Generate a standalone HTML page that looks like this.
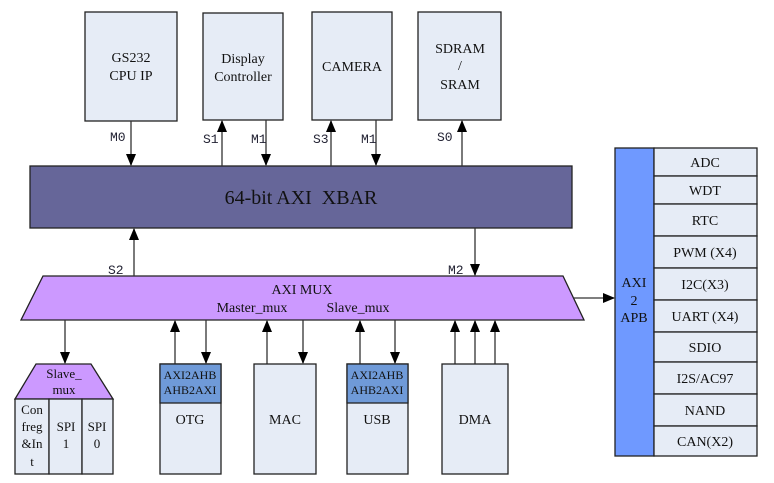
<!DOCTYPE html>
<html><head><meta charset="utf-8"><style>
html,body{margin:0;padding:0;background:#fff;}
svg{display:block}
text{font-family:"Liberation Serif",serif;fill:#111;}
.m{font-family:"Liberation Mono",monospace;font-size:13px;fill:#223;}
</style></head><body>
<svg width="774" height="483" viewBox="0 0 774 483" xmlns="http://www.w3.org/2000/svg">
<defs>
<marker id="a" markerWidth="12" markerHeight="10" refX="11" refY="5" orient="auto" markerUnits="userSpaceOnUse">
<path d="M0,0 L12,5 L0,10 z" fill="#000"/></marker>
</defs>
<g stroke="#222" stroke-width="1.3" fill="#e6ecf6">
<rect x="85" y="12" width="92" height="109"/>
<rect x="203" y="13" width="80" height="107"/>
<rect x="312" y="12" width="80" height="108"/>
<rect x="418" y="12" width="83" height="108"/>
</g>
<text x="131" y="62" font-size="14" text-anchor="middle">GS232</text>
<text x="131" y="80" font-size="14" text-anchor="middle">CPU IP</text>
<text x="243" y="63" font-size="14" text-anchor="middle">Display</text>
<text x="243" y="81" font-size="14" text-anchor="middle">Controller</text>
<text x="352" y="71" font-size="14" text-anchor="middle">CAMERA</text>
<text x="460" y="53" font-size="14" text-anchor="middle">SDRAM</text>
<text x="460" y="70" font-size="14" text-anchor="middle">/</text>
<text x="460" y="89" font-size="14" text-anchor="middle">SRAM</text>

<rect x="30" y="166" width="542" height="62" fill="#666699" stroke="#222" stroke-width="1.3"/>
<text x="301" y="204" font-size="20" text-anchor="middle">64-bit AXI&#160; XBAR</text>

<polygon points="43,276 563,276 584,320 21,320" fill="#cc99ff" stroke="#222" stroke-width="1.3"/>
<text x="302" y="294" font-size="14" text-anchor="middle">AXI MUX</text>
<text x="252" y="312" font-size="14" text-anchor="middle">Master_mux</text>
<text x="358" y="312" font-size="14" text-anchor="middle">Slave_mux</text>

<g stroke="#333" stroke-width="1.3" fill="none" marker-end="url(#a)">
<line x1="131" y1="121" x2="131" y2="165"/>
<line x1="222" y1="166" x2="222" y2="121"/>
<line x1="266" y1="120" x2="266" y2="165"/>
<line x1="331" y1="166" x2="331" y2="121"/>
<line x1="376" y1="120" x2="376" y2="165"/>
<line x1="462" y1="166" x2="462" y2="121"/>
<line x1="134" y1="276" x2="134" y2="229"/>
<line x1="475" y1="228" x2="475" y2="275"/>
<line x1="574" y1="298" x2="614" y2="298"/>
<line x1="65" y1="320" x2="65" y2="363"/>
<line x1="175" y1="364" x2="175" y2="321"/>
<line x1="206" y1="320" x2="206" y2="363"/>
<line x1="267" y1="364" x2="267" y2="321"/>
<line x1="303" y1="320" x2="303" y2="363"/>
<line x1="360" y1="364" x2="360" y2="321"/>
<line x1="395" y1="320" x2="395" y2="363"/>
<line x1="455" y1="364" x2="455" y2="321"/>
<line x1="475" y1="364" x2="475" y2="321"/>
<line x1="495" y1="364" x2="495" y2="321"/>
</g>
<text class="m" x="110" y="141">M0</text>
<text class="m" x="203" y="143">S1</text>
<text class="m" x="251" y="143">M1</text>
<text class="m" x="313" y="143">S3</text>
<text class="m" x="361" y="143">M1</text>
<text class="m" x="437" y="141">S0</text>
<text class="m" x="108" y="274">S2</text>
<text class="m" x="448" y="274">M2</text>

<polygon points="36,364 91,364 113,399 15,399" fill="#cc99ff" stroke="#222" stroke-width="1.3"/>
<text x="64" y="378" font-size="13" text-anchor="middle">Slave_</text>
<text x="64" y="394" font-size="13" text-anchor="middle">mux</text>
<g stroke="#222" stroke-width="1.3" fill="#e6ecf6">
<rect x="15" y="399" width="34" height="75"/>
<rect x="49" y="399" width="33" height="75"/>
<rect x="82" y="399" width="31" height="75"/>
</g>
<g font-size="13" text-anchor="middle">
<text x="32" y="414">Con</text><text x="32" y="431">freg</text><text x="32" y="448">&amp;In</text><text x="32" y="466">t</text>
<text x="66" y="431">SPI</text><text x="66" y="448">1</text>
<text x="97" y="431">SPI</text><text x="97" y="448">0</text>
</g>

<g stroke="#222" stroke-width="1.3">
<rect x="160" y="364" width="61" height="110" fill="#e6ecf6"/>
<rect x="160" y="364" width="61" height="39" fill="#6f9ad8"/>
<rect x="254" y="364" width="62" height="110" fill="#e6ecf6"/>
<rect x="347" y="364" width="61" height="110" fill="#e6ecf6"/>
<rect x="347" y="364" width="61" height="39" fill="#6f9ad8"/>
<rect x="442" y="364" width="66" height="110" fill="#e6ecf6"/>
</g>
<g font-size="12" text-anchor="middle" fill="#112">
<text x="190" y="379">AXI2AHB</text><text x="190" y="394">AHB2AXI</text>
<text x="377" y="379">AXI2AHB</text><text x="377" y="394">AHB2AXI</text>
</g>
<g font-size="14" text-anchor="middle">
<text x="190" y="424">OTG</text>
<text x="285" y="424">MAC</text>
<text x="377" y="424">USB</text>
<text x="475" y="424">DMA</text>
</g>

<rect x="615" y="148" width="39" height="308" fill="#6f99ff" stroke="#222" stroke-width="1.3"/>
<text x="634" y="287" font-size="14" text-anchor="middle">AXI</text>
<text x="634" y="305" font-size="14" text-anchor="middle">2</text>
<text x="634" y="322" font-size="14" text-anchor="middle">APB</text>
<g stroke="#222" stroke-width="1.3" fill="#e6ecf6">
<rect x="654" y="148" width="103" height="28"/>
<rect x="654" y="176" width="103" height="28"/>
<rect x="654" y="204" width="103" height="32"/>
<rect x="654" y="236" width="103" height="32"/>
<rect x="654" y="268" width="103" height="32"/>
<rect x="654" y="300" width="103" height="32"/>
<rect x="654" y="332" width="103" height="30"/>
<rect x="654" y="362" width="103" height="32"/>
<rect x="654" y="394" width="103" height="32"/>
<rect x="654" y="426" width="103" height="30"/>
</g>
<g font-size="14" text-anchor="middle">
<text x="705" y="167">ADC</text>
<text x="705" y="195">WDT</text>
<text x="705" y="225">RTC</text>
<text x="705" y="257">PWM (X4)</text>
<text x="705" y="289">I2C(X3)</text>
<text x="705" y="321">UART (X4)</text>
<text x="705" y="352">SDIO</text>
<text x="705" y="383">I2S/AC97</text>
<text x="705" y="415">NAND</text>
<text x="705" y="446">CAN(X2)</text>
</g>
</svg>
</body></html>
